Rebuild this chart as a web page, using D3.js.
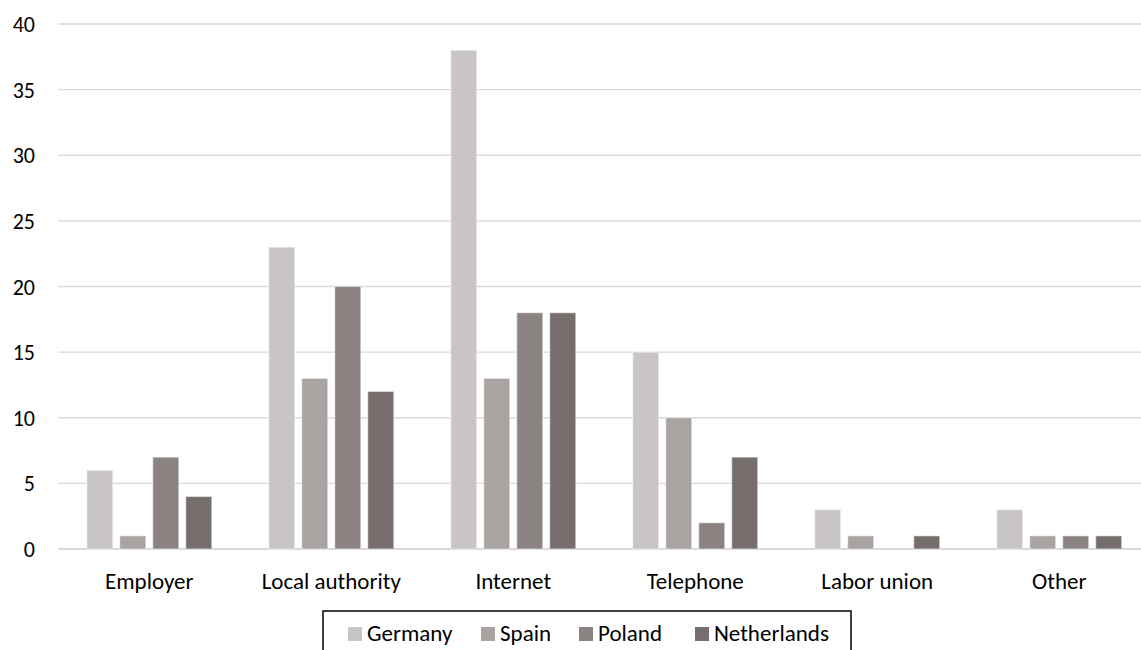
<!DOCTYPE html>
<html>
<head>
<meta charset="utf-8">
<script src="https://cdn.jsdelivr.net/npm/d3@7"></script>
<style>
  html, body { margin: 0; padding: 0; background: #ffffff; }
  svg { display: block; }
  text { font-family: Carlito, Calibri, Lato, "Open Sans", sans-serif; fill: #000000; }
</style>
</head>
<body>
<svg id="chart" width="1141" height="650"></svg>
<script>
// Categories and series values
const categories = ["Employer", "Local authority", "Internet", "Telephone", "Labor union", "Other"];
const seriesNames = ["Germany", "Spain", "Poland", "Netherlands"];
const germany = [6, 23, 38, 15, 3, 3];
const spain = [1, 13, 13, 10, 1, 1];
const poland = [7, 20, 18, 2, 0, 1];
const netherlands = [4, 12, 18, 7, 1, 1];
const yTicks = [0, 5, 10, 15, 20, 25, 30, 35, 40];

const seriesValues = [germany, spain, poland, netherlands];
const colors = ["#c9c5c4", "#a9a3a2", "#8b8381", "#766d6d"];

const svg = d3.select("#chart");
const fontSize = 23;

// Plot area
const plotLeft = 58.3, plotRight = 1150.2, plotTop = 24, plotBottom = 549;

const y = d3.scaleLinear().domain([0, 40]).range([plotBottom, plotTop]);
const x0 = d3.scaleBand().domain(categories).range([plotLeft, plotRight]).padding(0);
const groupWidth = 125;
const x1 = d3.scaleBand().domain(seriesNames)
  .range([-groupWidth / 2, groupWidth / 2])
  .paddingInner(0.212).paddingOuter(0);
const color = d3.scaleOrdinal().domain(seriesNames).range(colors);

// Gridlines
svg.append("g")
  .selectAll("line")
  .data(yTicks)
  .join("line")
  .attr("x1", plotLeft)
  .attr("x2", plotRight)
  .attr("y1", d => y(d))
  .attr("y2", d => y(d))
  .attr("stroke", "#d9d9d9")
  .attr("stroke-width", d => d === 0 ? 1.8 : 1.4);

// Y tick labels
svg.append("g")
  .selectAll("text")
  .data(yTicks)
  .join("text")
  .attr("x", 35)
  .attr("y", d => y(d) + 8)
  .attr("text-anchor", "end")
  .attr("font-size", 22)
  .text(d => d);

// Bars
const rows = categories.map((c, i) => ({
  category: c,
  values: seriesNames.map((s, j) => ({ series: s, value: seriesValues[j][i] }))
}));

const groups = svg.append("g")
  .selectAll("g")
  .data(rows)
  .join("g")
  .attr("transform", d => `translate(${x0(d.category) + x0.bandwidth() / 2},0)`);

groups.selectAll("rect")
  .data(d => d.values.filter(v => v.value > 0))
  .join("rect")
  .attr("x", d => x1(d.series))
  .attr("width", x1.bandwidth())
  .attr("y", d => y(d.value))
  .attr("height", d => y(0) - y(d.value))
  .attr("fill", d => color(d.series))
  .attr("stroke", "rgba(255,255,255,0.45)")
  .attr("stroke-width", 1.2);

// Category labels
svg.append("g")
  .selectAll("text")
  .data(categories)
  .join("text")
  .attr("x", d => x0(d) + x0.bandwidth() / 2)
  .attr("y", 589)
  .attr("text-anchor", "middle")
  .attr("font-size", fontSize)
  .text(d => d);

// Legend
const legend = svg.append("g");
legend.append("rect")
  .attr("x", 323)
  .attr("y", 611)
  .attr("width", 528)
  .attr("height", 60)
  .attr("fill", "#ffffff")
  .attr("stroke", "#000000")
  .attr("stroke-width", 1.5);

const legendX = [348, 481, 579, 695];
const items = legend.selectAll("g.item")
  .data(seriesNames)
  .join("g")
  .attr("class", "item")
  .attr("transform", (d, i) => `translate(${legendX[i]},0)`);

items.append("rect")
  .attr("x", 0)
  .attr("y", 627)
  .attr("width", 14)
  .attr("height", 14)
  .attr("fill", d => color(d));

items.append("text")
  .attr("x", 19)
  .attr("y", 641)
  .attr("font-size", fontSize)
  .text(d => d);
</script>
</body>
</html>
